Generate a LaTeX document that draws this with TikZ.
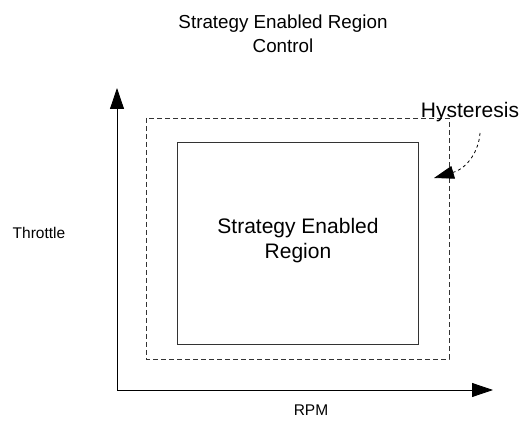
\documentclass[tikz,border=0pt]{standalone}
\usepackage{fontspec}
\setmainfont{Liberation Sans}
\usetikzlibrary{arrows.meta,positioning,calc}

\begin{document}
\begin{tikzpicture}[x=1pt,y=-1pt,
    bigtip/.style={-{Triangle[length=21pt,width=14pt]}},
    curvetip/.style={-{Triangle[length=20pt,width=13pt]}},
    titletext/.style={font=\fontsize{18.8}{24}\selectfont,align=center},
    bigtext/.style={font=\fontsize{21}{25}\selectfont,align=center},
    smalltext/.style={font=\fontsize{15.5}{18}\selectfont}]
  \useasboundingbox (0,0) rectangle (520,422);

  % Title
  \node[titletext] (title) at (283,34) {Strategy Enabled Region\\Control};

  % Axes
  \coordinate (origin) at (117,390);
  \coordinate (ytop) at (117,88);
  \coordinate (xend) at (493,390);
  \draw[bigtip,thick] (origin) -- (ytop);
  \draw[bigtip,thick] (origin) -- (xend);
  \node[smalltext] (throttle) at (39,233) {Throttle};
  \node[smalltext] (rpm) at (311,410) {RPM};

  % Hysteresis band and enabled region
  \draw[thick,black!80,dash pattern=on 5pt off 3pt] (146,118) rectangle (449,359);
  \draw[thick,black!80] (177,142) rectangle (418,344);
  \node[bigtext] (region) at (298,241) {Strategy Enabled\\Region};

  % Hysteresis marker
  \node[bigtext] (hyst) at (470,112) {Hysteresis};
  \coordinate (hystfrom) at (480,133);
  \coordinate (band) at (434,178);
  \draw[dashed,thick,curvetip]
    (hystfrom) .. controls (479,150) and (468,168) .. (band);
\end{tikzpicture}
\end{document}
